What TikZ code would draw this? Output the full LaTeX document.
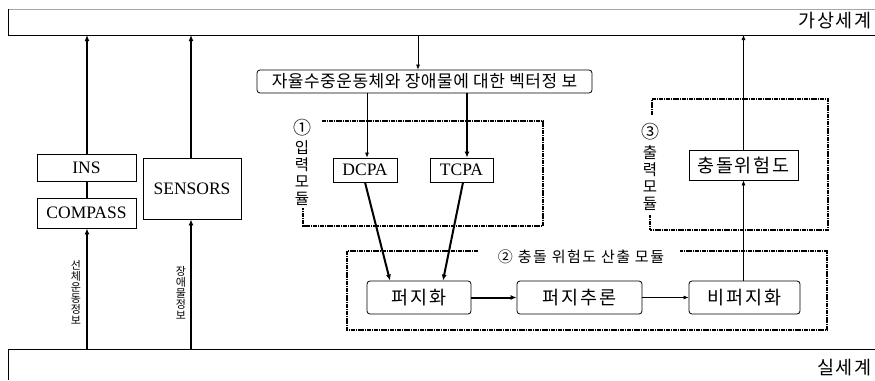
\documentclass[tikz,border=0pt]{standalone}
\usepackage{fontspec}
\setmainfont{Liberation Serif}
\newfontfamily\kr{Noto Sans CJK KR}
\newfontfamily\krs{Noto Sans CJK KR}[LetterSpace=10]
\newfontfamily\krv{Noto Sans CJK KR}[LetterSpace=3]
\usetikzlibrary{arrows.meta}
\begin{document}
\begin{tikzpicture}[x=1pt,y=-1pt,
  box/.style={draw, line width=0.8pt, inner sep=0pt, font=\fontsize{17.5}{19}\selectfont},
  rbox/.style={draw, line width=0.8pt, inner sep=0pt, rounded corners=3pt, font=\krs\fontsize{18.5}{20}\selectfont},
  thn/.style={line width=0.7pt, -{Latex[length=5pt,width=4pt]}},
  thk/.style={line width=2pt, -{Latex[length=6pt,width=5pt]}},
  modline/.style={line width=2.6pt, dash pattern=on 1.7pt off 0.6pt},
  vlabel/.style={align=center, inner sep=0pt, font=\kr\fontsize{11}{11}\selectfont},
  mlabel/.style={align=center, inner sep=0pt, font=\kr\fontsize{15.5}{17}\selectfont},
  circ/.style={inner sep=0pt, font=\kr\fontsize{18}{18}\selectfont}
]
\useasboundingbox (0,0) rectangle (875,380);
% bands
\draw[gray!70, line width=1pt] (8,9) -- (875,9);
\draw[line width=0.8pt] (8,9) -- (8,35) -- (875,35);
\draw[line width=0.8pt] (875,349) -- (8,349) -- (8,380);
\node[anchor=east, inner sep=0pt, font=\krs\fontsize{18.5}{20}\selectfont] (virt) at (872,21) {가상세계};
\node[anchor=east, inner sep=0pt, font=\krs\fontsize{18.5}{20}\selectfont] (real) at (872,368) {실세계};
\coordinate (t1) at (87,35); \coordinate (b1) at (87,349);
\coordinate (t2) at (191,35); \coordinate (b2) at (191,349);
\coordinate (t3) at (418,35);
\coordinate (t4) at (743.5,35);
% left boxes
\node[box, minimum width=99pt, minimum height=27pt] (ins) at (86.5,167.5) {INS};
\node[box, minimum width=99pt, minimum height=30pt] (compass) at (86.5,213) {COMPASS};
\node[box, minimum width=98pt, minimum height=61pt] (sensors) at (192,188.5) {SENSORS};
\draw[thk] (b1) -- (b1 |- compass.south);
\draw[line width=2pt] (b1 |- compass.north) -- (b1 |- ins.south);
\draw[thk] (b1 |- ins.north) -- (t1);
\draw[thk] (b2) -- (b2 |- sensors.south);
\draw[thk] (b2 |- sensors.north) -- (t2);
\node[vlabel] (lab1) at (76,292.5) {선\\체\\운\\동\\정\\보};
\node[vlabel] (lab2) at (181,292.5) {장\\애\\물\\정\\보};
% vector box
\node[draw, line width=0.8pt, rounded corners=3pt, inner sep=0pt, minimum width=335pt, minimum height=23pt,
  font=\krv\fontsize{17}{18}\selectfont] (vec) at (424.5,81.5) {자율수중운동체와 장애물에 대한 벡터정 보};
\draw[thn] (t3) -- (t3 |- vec.north);
% module 1
\draw[modline] (322,121) -- (543,121) -- (543,226) -- (303,226) -- (303,208);
\node[circ] (c1) at (302,128) {①};
\node[mlabel] (m1) at (302,173) {입\\력\\모\\듈};
\node[box, minimum width=64pt, minimum height=24pt] (dcpa) at (365,170) {DCPA};
\node[box, minimum width=63pt, minimum height=24pt] (tcpa) at (461.5,170) {TCPA};
\draw[thn] ([xshift=2pt]vec.south -| dcpa) -- ([xshift=2pt]dcpa.north);
\draw[thk] ([xshift=5.5pt]vec.south -| tcpa) -- ([xshift=5.5pt]tcpa.north);
% module 2
\draw[modline] (478,251) -- (347,251) -- (347,330) -- (827,330) -- (827,251) -- (680,251);
\node[inner sep=0pt, font=\krs\fontsize{15}{17}\selectfont] (m2) at (581,257) {② 충돌 위험도 산출 모듈};
\node[rbox, minimum width=104pt, minimum height=33pt] (fz) at (419,297.5) {퍼지화};
\node[rbox, minimum width=125pt, minimum height=33pt] (inf) at (579.5,297.5) {퍼지추론};
\node[rbox, minimum width=111pt, minimum height=33pt] (dfz) at (744.5,297.5) {비퍼지화};
\draw[thk] (dcpa.south) -- ([xshift=-29pt]fz.north);
\draw[thk] ([xshift=1.5pt]tcpa.south) -- ([xshift=24pt]fz.north);
\draw[thk] (fz) -- (inf);
\draw[thn] (inf) -- (dfz);
% module 3
\draw[modline] (652,115) -- (652,99) -- (828,99) -- (828,230) -- (650,230) -- (650,215);
\node[circ] (c3) at (650,132) {③};
\node[mlabel] (m3) at (650,178) {출\\력\\모\\듈};
\node[draw, line width=0.8pt, inner sep=0pt, minimum width=109pt, minimum height=30pt,
  font=\krs\fontsize{18.5}{20}\selectfont] (risk) at (743.5,165) {충돌위험도};
\draw[thn] (dfz.north -| risk) -- (risk.south);
\draw[thn] (risk.north) -- (t4);
\end{tikzpicture}
\end{document}
